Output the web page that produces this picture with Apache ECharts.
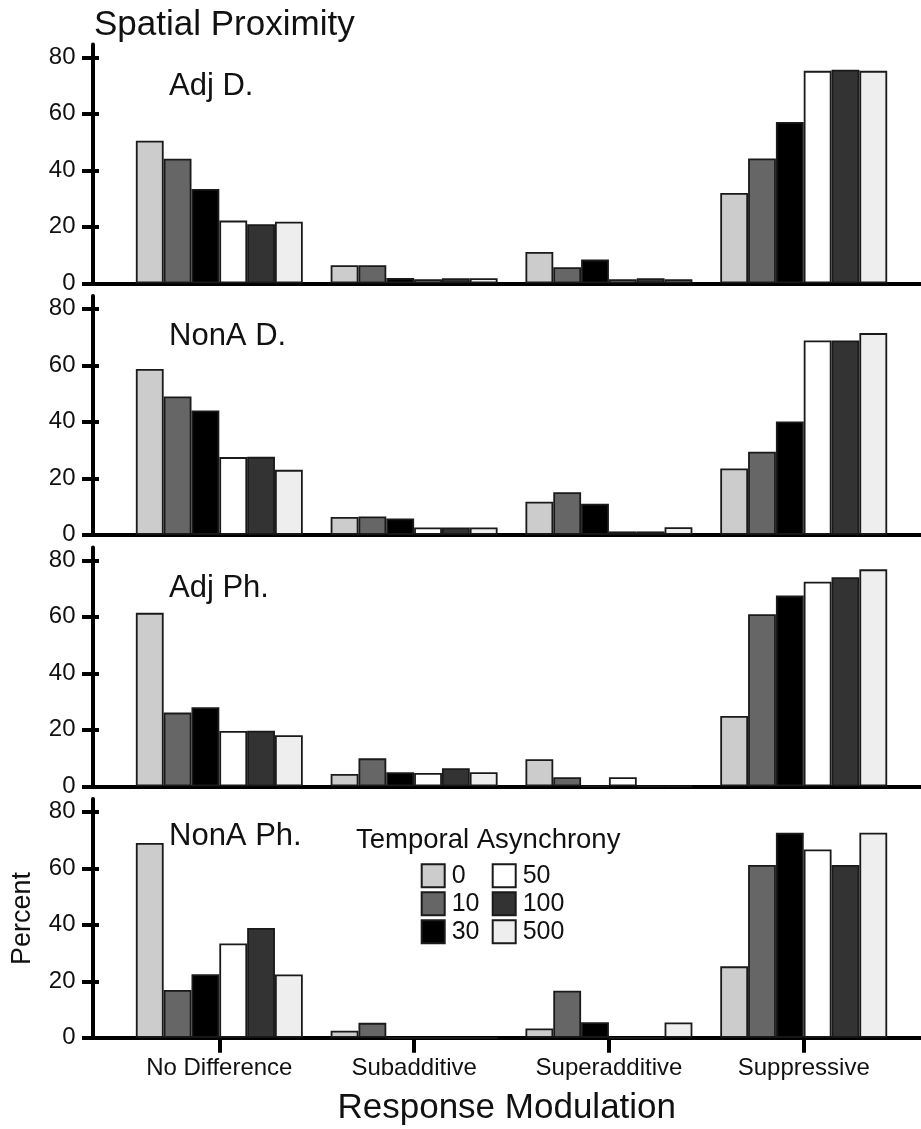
<!DOCTYPE html>
<html>
<head>
<meta charset="utf-8">
<script src="https://cdn.jsdelivr.net/npm/echarts@6/dist/echarts.min.js"></script>
<style>html,body{margin:0;padding:0;background:#fff}#c{width:921px;height:1129px}</style>
</head>
<body>
<div id="c"></div>
<script>
// ---- data ----
const categories = ['No Difference', 'Subadditive', 'Superadditive', 'Suppressive'];
const asynchrony = ['0', '10', '30', '50', '100', '500'];
const panelLabels = ['Adj D.', 'NonA D.', 'Adj Ph.', 'NonA Ph.'];
const yTicks = [0, 20, 40, 60, 80];
// each row: one asynchrony level, values per category (percent)
const adjD = [
  [50.5, 6.4, 11.1, 32.0],
  [44.1, 6.4, 5.7, 44.2],
  [33.4, 1.9, 8.4, 57.1],
  [22.2, 1.4, 1.4, 75.2],
  [20.9, 1.8, 1.8, 75.6],
  [21.8, 1.8, 1.4, 75.2]
];
const nonAD = [
  [58.7, 6.3, 11.7, 23.5],
  [49.0, 6.5, 15.1, 29.4],
  [44.0, 5.8, 11.0, 40.1],
  [27.5, 2.6, 1.2, 68.8],
  [27.6, 2.6, 1.2, 68.8],
  [23.0, 2.6, 2.7, 71.4]
];
const adjPh = [
  [61.4, 4.4, 9.6, 24.9],
  [26.1, 9.9, 3.2, 60.9],
  [28.0, 5.0, 0, 67.5],
  [19.6, 4.7, 3.2, 72.4],
  [19.7, 6.4, 0, 74.0],
  [18.1, 5.0, 0, 76.8]
];
const nonAPh = [
  [69.0, 2.5, 3.3, 25.3],
  [16.9, 5.3, 16.7, 61.2],
  [22.5, 0, 5.5, 72.6],
  [33.4, 0, 0, 66.7],
  [38.9, 0, 0, 61.2],
  [22.4, 0, 5.4, 72.6]
];
const panels = [adjD, nonAD, adjPh, nonAPh];

// ---- styles ----
const fills = ['#cccccc', '#666666', '#000000', '#ffffff', '#333333', '#eeeeee'];
const FONT = 'Liberation Sans, Arial, Helvetica, sans-serif';
const TXT = '#111';
const gridTop0 = 44.6, panelStep = 251.5, yMax = 84.5, pxPerUnit = 2.825;
const gridH = yMax * pxPerUnit;

const grid = [], xAxis = [], yAxis = [], series = [], title = [];
title.push({ text: 'Spatial Proximity', left: 94, top: 8, padding: 0,
  textStyle: { fontFamily: FONT, fontSize: 35, fontWeight: 'normal', color: TXT } });
const labelTops = [70.8, 320.8, 573, 820.5];
panels.forEach((p, i) => {
  const last = i === panels.length - 1;
  grid.push({ left: 92.5, right: 0, top: gridTop0 + i * panelStep, height: gridH });
  xAxis.push({
    type: 'value', gridIndex: i, min: -0.651, max: 3.602,
    axisLine: { show: true, lineStyle: { color: '#000', width: 4 } },
    splitLine: { show: false },
    axisTick: last ? { show: true, customValues: [0, 1, 2, 3], length: 15, lineStyle: { color: '#000', width: 4 } } : { show: false },
    axisLabel: last ? { show: true, customValues: [0, 1, 2, 3], margin: 19,
      formatter: v => categories[Math.round(v)], fontFamily: FONT, fontSize: 24, color: TXT } : { show: false },
    name: last ? 'Response Modulation' : '', nameLocation: 'middle', nameGap: 53,
    nameTextStyle: { fontFamily: FONT, fontSize: 35, color: TXT }
  });
  yAxis.push({
    type: 'value', gridIndex: i, min: 0, max: yMax, position: 'left',
    axisLine: { show: true, onZero: false, lineStyle: { color: '#000', width: 4 } },
    splitLine: { show: false },
    axisTick: { show: true, customValues: yTicks, length: 10.5, lineStyle: { color: '#000', width: 4 } },
    axisLabel: { show: true, customValues: yTicks, margin: 17, padding: [4, 0, 0, 0],
      fontFamily: FONT, fontSize: 24, color: TXT },
    name: last ? 'Percent' : '', nameLocation: 'middle', nameGap: 56,
    nameTextStyle: { fontFamily: FONT, fontSize: 27, color: TXT }
  });
  yAxis.push({
    type: 'value', gridIndex: i, min: 0, max: yMax, position: 'left',
    axisLine: { show: false, onZero: false },
    splitLine: { show: false },
    axisTick: { show: true, inside: true, customValues: yTicks, length: 6.5, lineStyle: { color: '#000', width: 4 } },
    axisLabel: { show: false }
  });
  title.push({ text: panelLabels[i], left: 169, top: labelTops[i], padding: 0,
    textStyle: { fontFamily: FONT, fontSize: 31, fontWeight: 'normal', color: TXT } });
  asynchrony.forEach((name, s) => {
    series.push({
      type: 'bar', name: name, xAxisIndex: i, yAxisIndex: 2 * i,
      barGap: 0, barCategoryGap: '14.3%',
      itemStyle: { color: fills[s], borderColor: '#1a1a1a', borderWidth: 1.8 },
      data: p[s].map((v, k) => [k, v])
    });
  });
});
title.push({ text: 'Temporal Asynchrony', left: 356, top: 826, padding: 0,
  textStyle: { fontFamily: FONT, fontSize: 27.5, fontWeight: 'normal', color: TXT } });

const legendBase = {
  orient: 'vertical', top: 863.3, itemWidth: 23, itemHeight: 23, itemGap: 3, icon: 'rect',
  padding: 0, selectedMode: false,
  itemStyle: { borderColor: '#1a1a1a', borderWidth: 2 },
  textStyle: { fontFamily: FONT, fontSize: 25, color: TXT, lineHeight: 23, padding: [0, 0, 0, 2] }
};
const legend = [
  Object.assign({}, legendBase, { left: 420.7, data: asynchrony.slice(0, 3) }),
  Object.assign({}, legendBase, { left: 491.7, data: asynchrony.slice(3) })
];

const chart = echarts.init(document.getElementById('c'), null, { renderer: 'canvas' });
chart.setOption({ animation: false, backgroundColor: '#fff', title, legend, grid, xAxis, yAxis, series });
</script>
</body>
</html>
